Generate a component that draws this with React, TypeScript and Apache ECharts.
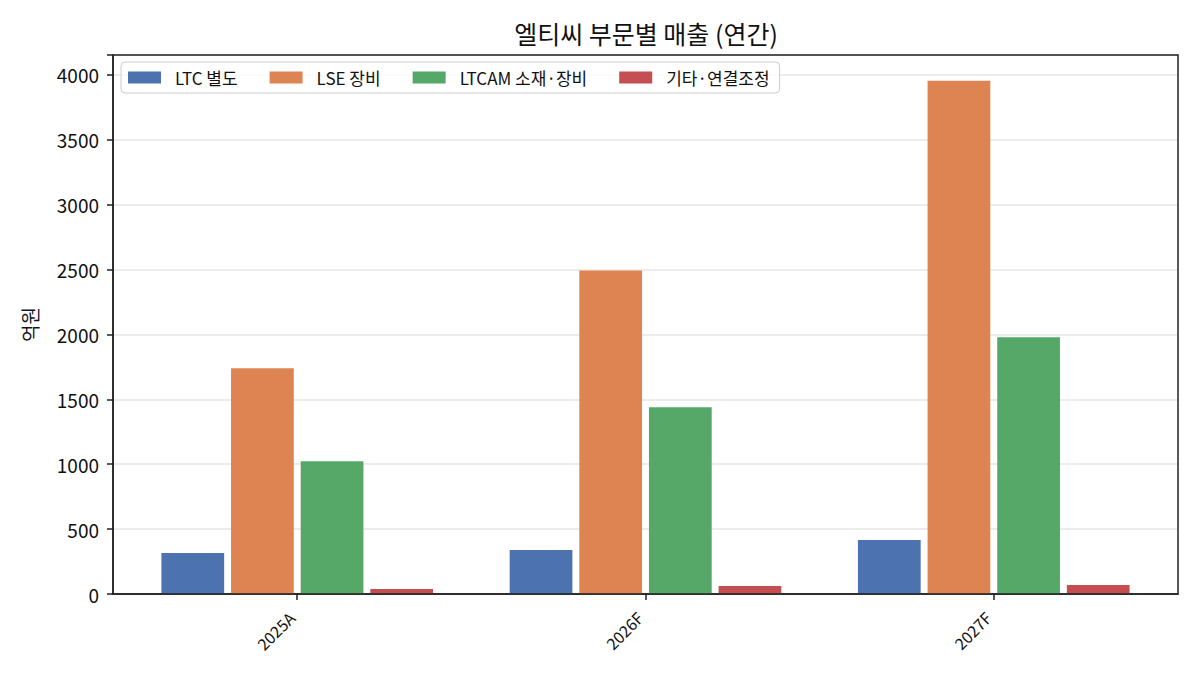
import { useEffect, useRef } from "react";
import * as echarts from "echarts";

// 연도 구분 (A: 실적, F: 전망)
const categories = ["2025A", "2026F", "2027F"];
const seriesNames = ["LTC 별도", "LSE 장비", "LTCAM 소재·장비", "기타·연결조정"];

// 부문별 매출 (억원)
const ltcValues = [315, 338, 415];
const lseValues = [1738, 2492, 3954];
const ltcamValues = [1023, 1438, 1977];
const otherValues = [38, 62, 69];

const yTicks = [0, 500, 1000, 1500, 2000, 2500, 3000, 3500, 4000];

const colors = ["#4C72B0", "#DD8452", "#55A868", "#C44E52"];
const FONT = '"Noto Sans CJK KR", "Noto Sans", sans-serif';

const App = () => {
  const chartRef = useRef<HTMLDivElement>(null);

  useEffect(() => {
    if (!chartRef.current) return;
    const chart = echarts.init(chartRef.current, undefined, { renderer: "svg" });

    const allValues = [ltcValues, lseValues, ltcamValues, otherValues];
    const yMax = Math.max(...allValues.flat()) * 1.05;

    const options = {
      animation: false,
      backgroundColor: "#ffffff",
      textStyle: { fontFamily: FONT },
      title: {
        text: "엘티씨 부문별 매출 (연간)",
        left: 641,
        textAlign: "center",
        top: 15,
        textStyle: { fontFamily: FONT, fontSize: 25, fontWeight: "normal", color: "#111" },
      },
      legend: {
        left: 121,
        top: 62,
        padding: [7, 10, 7, 7],
        itemWidth: 33,
        itemHeight: 12,
        itemGap: 32,
        icon: "rect",
        borderColor: "#cccccc",
        borderWidth: 1,
        borderRadius: 4,
        backgroundColor: "rgba(255,255,255,0.8)",
        textStyle: { fontFamily: FONT, fontSize: 17, color: "#111", padding: [0, 0, 0, 9] },
        data: seriesNames,
      },
      grid: {
        left: 113,
        right: 22,
        top: 55,
        bottom: 81,
        outerBoundsMode: "none",
      },
      xAxis: {
        type: "value",
        min: -0.529,
        max: 2.529,
        axisLine: { show: true, onZero: false, lineStyle: { color: "#222", width: 1.5 } },
        splitLine: { show: false },
        axisTick: {
          show: true,
          customValues: categories.map((_, i) => i),
          length: 6,
          lineStyle: { color: "#222", width: 1.5 },
        },
        axisLabel: {
          customValues: categories.map((_, i) => i),
          formatter: (v: number) => categories[Math.round(v)] ?? "",
          rotate: 45,
          margin: 15,
          padding: [0, 8, 0, 0],
          fontFamily: FONT,
          fontSize: 16,
          color: "#111",
        },
      },
      yAxis: {
        type: "value",
        min: 0,
        max: yMax,
        interval: 500,
        name: "억원",
        nameLocation: "middle",
        nameRotate: 90,
        nameGap: 74,
        nameTextStyle: { fontFamily: FONT, fontSize: 19, color: "#111" },
        axisLine: { show: true, onZero: false, lineStyle: { color: "#222", width: 1.5 } },
        axisTick: { show: true, inside: false, length: 6, lineStyle: { color: "#222", width: 1.5 } },
        axisLabel: {
          margin: 14,
          fontFamily: FONT,
          fontSize: 19,
          color: "#111",
          formatter: (v: number) => (yTicks.includes(v) ? String(v) : ""),
        },
        splitLine: { show: true, lineStyle: { color: "#e6e6e6", width: 1.5 } },
      },
      graphic: [
        {
          type: "rect",
          z: 100,
          silent: true,
          shape: { x: 113, y: 55, width: 1065, height: 539 },
          style: { fill: "none", stroke: "#222", lineWidth: 1.5 },
        },
      ],
      series: allValues.map((vals, idx) => ({
        name: seriesNames[idx],
        type: "bar",
        barGap: "11%",
        barCategoryGap: "22%",
        itemStyle: { color: colors[idx] },
        data: vals.map((v, i) => [i, v]),
      })),
    };

    chart.setOption(options);

    return () => {
      chart.dispose();
    };
  }, []);

  return (
    <div
      ref={chartRef}
      style={{ position: "fixed", left: 0, top: 0, width: "1200px", height: "675px" }}
    />
  );
};

export default App;
